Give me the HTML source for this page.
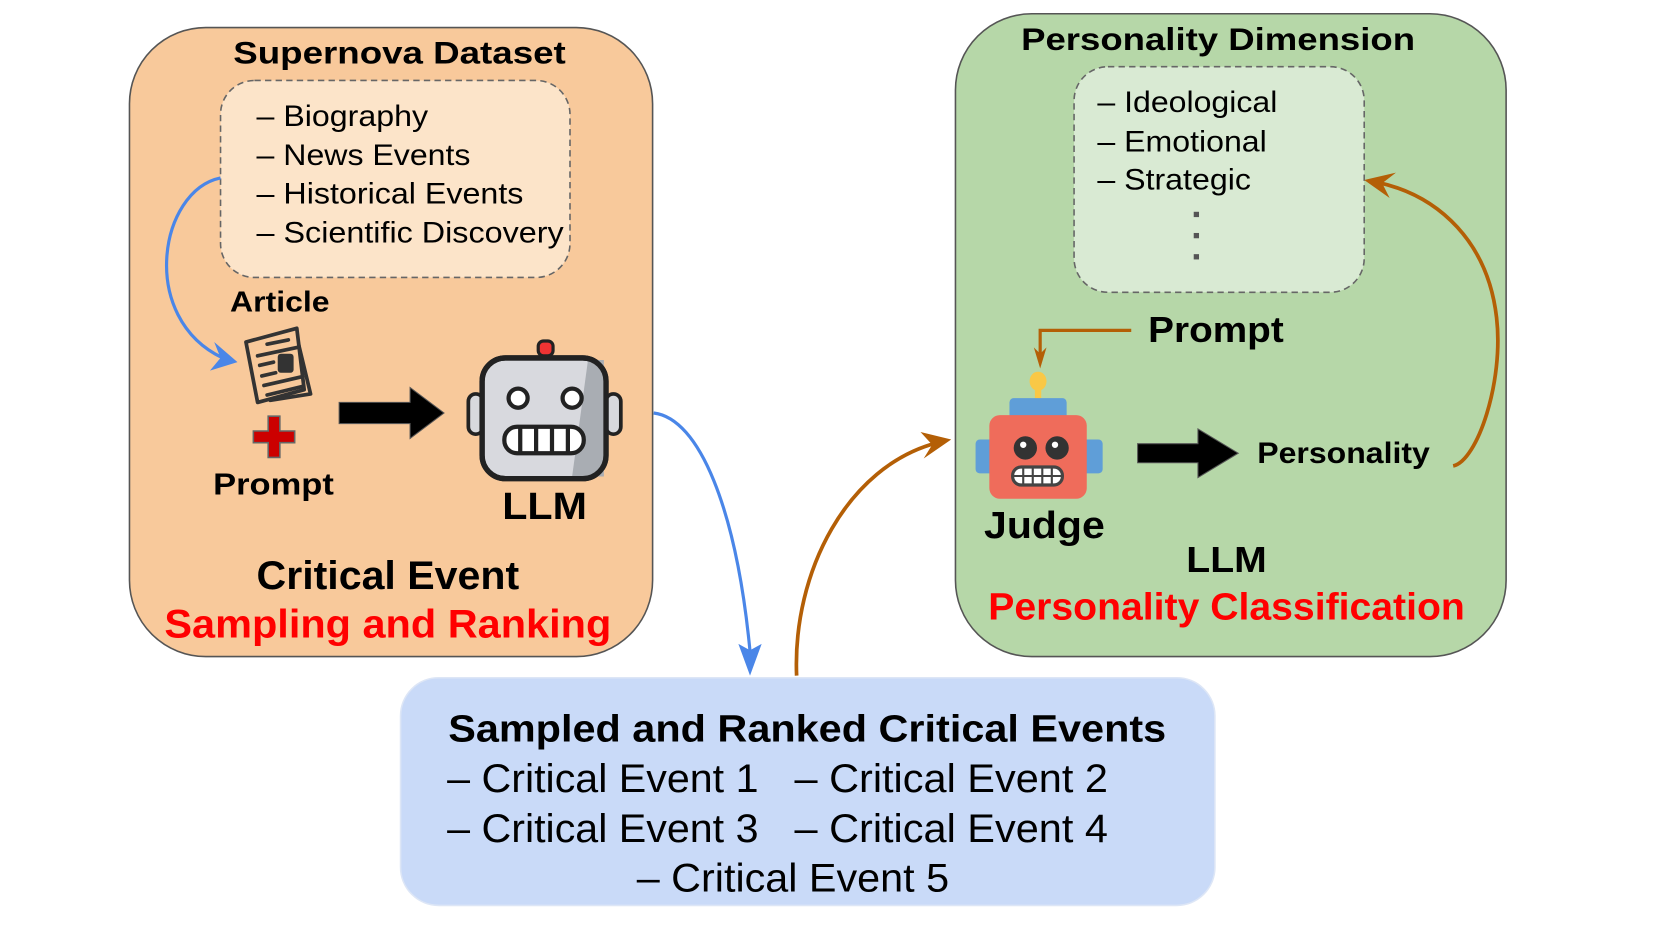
<!DOCTYPE html>
<html><head><meta charset="utf-8"><style>
html,body{margin:0;padding:0;background:#fff;}
svg{display:block;}
text{font-family:"Liberation Sans",Arial,Helvetica,sans-serif;}
.b{font-weight:bold;}
</style></head><body>
<svg width="1661" height="934" viewBox="0 0 1568 882" xmlns="http://www.w3.org/2000/svg">
<!-- orange box -->
<rect x="122" y="26" width="494" height="594" rx="72" fill="#f8c99b" stroke="#555" stroke-width="1.5"/>
<text x="377" y="60" text-anchor="middle" class="b" font-size="30" textLength="314" lengthAdjust="spacingAndGlyphs">Supernova Dataset</text>
<rect x="208" y="76" width="330" height="186" rx="32" fill="#fce4c9" stroke="#666" stroke-width="1.5" stroke-dasharray="6,4"/>
<g font-size="28">
<text x="242" y="119" textLength="162" lengthAdjust="spacingAndGlyphs">– Biography</text>
<text x="242" y="156" textLength="202" lengthAdjust="spacingAndGlyphs">– News Events</text>
<text x="242" y="192" textLength="252" lengthAdjust="spacingAndGlyphs">– Historical Events</text>
<text x="242" y="229" textLength="290" lengthAdjust="spacingAndGlyphs">– Scientific Discovery</text>
</g>
<path d="M208,168 C150,180 130,300 210,338" fill="none" stroke="#4a86e8" stroke-width="3"/>
<path d="M224,342 L198,350 L208,338 L202,323 Z" fill="#4a86e8"/>
<text x="264" y="294" text-anchor="middle" class="b" font-size="27" textLength="94" lengthAdjust="spacingAndGlyphs">Article</text>
<!-- newspaper -->
<g stroke="#333" stroke-width="3.5" fill="#f8c99b" stroke-linejoin="round" stroke-linecap="round">
<path d="M280,318 L293,372 L255,378"/>
<path d="M232,323 L280,310 L287,368 L243,380 Z"/>
<line x1="252" y1="325" x2="272" y2="321"/>
<line x1="243" y1="336" x2="281" y2="328"/>
<line x1="245" y1="345" x2="258" y2="342"/>
<line x1="247" y1="355" x2="260" y2="352"/>
<line x1="249" y1="364" x2="284" y2="356"/>
<line x1="252" y1="373" x2="285" y2="365"/>
</g>
<rect x="262" y="334" width="15" height="18" rx="3" fill="#333"/>
<!-- plus -->
<path d="M253,393 h11 v14 h14 v11 h-14 v14 h-11 v-14 h-14 v-11 h14 Z" fill="#cc0000" stroke="#666" stroke-width="1.5"/>
<text x="258" y="467" text-anchor="middle" class="b" font-size="29" textLength="114" lengthAdjust="spacingAndGlyphs">Prompt</text>
<!-- black arrow -->
<path d="M320,380 h67 v-14 l32,24 l-32,24 v-14 h-67 Z" fill="#000" stroke="#555" stroke-width="1"/>
<!-- LLM robot -->
<rect x="508" y="322" width="14" height="14" rx="5" fill="#e33" stroke="#222" stroke-width="3"/>
<rect x="442" y="372" width="14" height="38" rx="7" fill="#d8d9dd" stroke="#222" stroke-width="3.5"/>
<rect x="572" y="372" width="14" height="38" rx="7" fill="#d8d9dd" stroke="#222" stroke-width="3.5"/>
<rect x="455" y="338" width="117" height="114" rx="22" fill="#d8d9de" stroke="#222" stroke-width="5"/>
<path d="M555,340 L570,340 L570,450 L540,450 Z" fill="#a9adb3"/>
<rect x="455" y="338" width="117" height="114" rx="22" fill="none" stroke="#222" stroke-width="5"/>
<circle cx="489" cy="376" r="9" fill="#fff" stroke="#222" stroke-width="4"/>
<circle cx="540" cy="376" r="9" fill="#fff" stroke="#222" stroke-width="4"/>
<rect x="476" y="403" width="75" height="25" rx="12" fill="#fff" stroke="#222" stroke-width="4"/>
<g stroke="#222" stroke-width="4"><line x1="491" y1="404" x2="491" y2="427"/><line x1="506" y1="404" x2="506" y2="427"/><line x1="521" y1="404" x2="521" y2="427"/><line x1="536" y1="404" x2="536" y2="427"/></g>
<text x="514" y="490" text-anchor="middle" class="b" font-size="36" textLength="80" lengthAdjust="spacingAndGlyphs">LLM</text>
<text x="366" y="556" text-anchor="middle" class="b" font-size="38" textLength="248" lengthAdjust="spacingAndGlyphs">Critical Event</text>
<text x="366" y="602" text-anchor="middle" class="b" font-size="38" fill="#ff0000" textLength="422" lengthAdjust="spacingAndGlyphs">Sampling and Ranking</text>
<!-- blue curve to bottom -->
<path d="M617,390 C660,395 695,480 708,615" fill="none" stroke="#4a86e8" stroke-width="3"/>
<path d="M708,638 L697,608 L708,614 L719,608 Z" fill="#4a86e8"/>
<!-- green box -->
<rect x="902" y="13" width="520" height="607" rx="72" fill="#b6d7a8" stroke="#555" stroke-width="1.5"/>
<text x="1150" y="47" text-anchor="middle" class="b" font-size="30" textLength="372" lengthAdjust="spacingAndGlyphs">Personality Dimension</text>
<rect x="1014" y="63" width="274" height="213" rx="32" fill="#d9ead3" stroke="#666" stroke-width="1.5" stroke-dasharray="6,4"/>
<g font-size="28">
<text x="1036" y="106" textLength="170" lengthAdjust="spacingAndGlyphs">– Ideological</text>
<text x="1036" y="143" textLength="160" lengthAdjust="spacingAndGlyphs">– Emotional</text>
<text x="1036" y="179" textLength="145" lengthAdjust="spacingAndGlyphs">– Strategic</text>
</g>
<rect x="1127" y="200" width="5" height="5" fill="#555"/>
<rect x="1127" y="220" width="5" height="5" fill="#555"/>
<rect x="1127" y="240" width="5" height="5" fill="#555"/>
<!-- orange curve right -->
<path d="M1372,440 C1395,435 1420,360 1413,300 C1405,230 1360,185 1300,172" fill="none" stroke="#b45f06" stroke-width="3.5"/>
<path d="M1288,170 L1318,163 L1305,173 L1312,187 Z" fill="#b45f06"/>
<text x="1084" y="323" class="b" font-size="34" textLength="128" lengthAdjust="spacingAndGlyphs">Prompt</text>
<path d="M1068,312 H982 V338" fill="none" stroke="#b45f06" stroke-width="3"/>
<path d="M982,348 L976,328 L982,334 L988,328 Z" fill="#b45f06"/>
<!-- judge robot -->
<ellipse cx="980" cy="360" rx="8" ry="9" fill="#f9c846"/>
<rect x="977" y="362" width="6" height="16" fill="#f9c846"/>
<rect x="953" y="376" width="54" height="20" rx="4" fill="#5f9ed8"/>
<rect x="921" y="415" width="120" height="32" rx="4" fill="#5f9ed8"/>
<rect x="934" y="392" width="92" height="79" rx="10" fill="#ef6c5b"/>
<circle cx="968" cy="423" r="11" fill="#333"/><circle cx="998" cy="423" r="11" fill="#333"/>
<circle cx="966" cy="420" r="3" fill="#fff"/><circle cx="996" cy="420" r="3" fill="#fff"/>
<rect x="956" y="441" width="47" height="17" rx="8" fill="#fff" stroke="#444" stroke-width="3"/>
<g stroke="#444" stroke-width="2"><line x1="966" y1="442" x2="966" y2="457"/><line x1="975" y1="442" x2="975" y2="457"/><line x1="984" y1="442" x2="984" y2="457"/><line x1="993" y1="442" x2="993" y2="457"/><line x1="957" y1="449.5" x2="1002" y2="449.5"/></g>
<text x="986" y="508" text-anchor="middle" class="b" font-size="36" textLength="114" lengthAdjust="spacingAndGlyphs">Judge</text>
<path d="M1074,419 h57 v-14 l38,23 l-38,23 v-14 h-57 Z" fill="#000" stroke="#555" stroke-width="1"/>
<text x="1187" y="437" class="b" font-size="28" textLength="163" lengthAdjust="spacingAndGlyphs">Personality</text>
<text x="1158" y="540" text-anchor="middle" class="b" font-size="34" textLength="76" lengthAdjust="spacingAndGlyphs">LLM</text>
<text x="1158" y="585" text-anchor="middle" class="b" font-size="36" fill="#ff0000" textLength="450" lengthAdjust="spacingAndGlyphs">Personality Classification</text>
<!-- orange curve bottom to judge -->
<path d="M752,638 C748,540 800,440 885,418" fill="none" stroke="#b45f06" stroke-width="3.5"/>
<path d="M898,415 L869,408 L880,420 L872,433 Z" fill="#b45f06"/>
<!-- blue box -->
<rect x="378" y="640" width="769" height="215" rx="36" fill="#c9daf8" stroke="#dde6f6" stroke-width="1.5"/>
<text x="762" y="700" text-anchor="middle" class="b" font-size="36" textLength="678" lengthAdjust="spacingAndGlyphs">Sampled and Ranked Critical Events</text>
<g font-size="38">
<text x="422" y="748" textLength="294" lengthAdjust="spacingAndGlyphs">– Critical Event 1</text>
<text x="750" y="748" textLength="296" lengthAdjust="spacingAndGlyphs">– Critical Event 2</text>
<text x="422" y="795" textLength="294" lengthAdjust="spacingAndGlyphs">– Critical Event 3</text>
<text x="750" y="795" textLength="296" lengthAdjust="spacingAndGlyphs">– Critical Event 4</text>
<text x="601" y="842" textLength="295" lengthAdjust="spacingAndGlyphs">– Critical Event 5</text>
</g>
</svg>
</body></html>
